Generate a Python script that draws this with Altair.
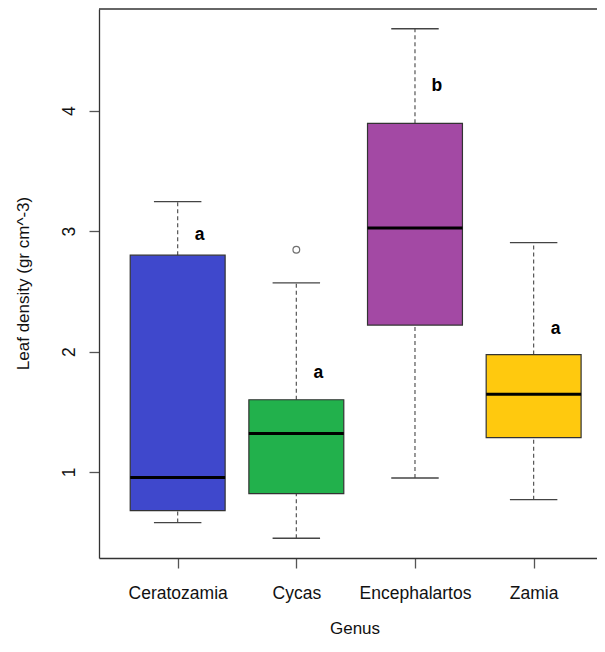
import json
import altair as alt
import pandas as pd

# ---- data ----
GENERA = ["Ceratozamia", "Cycas", "Encephalartos", "Zamia"]
LOWER = [0.58, 0.45, 0.95, 0.77]
Q1 = [0.68, 0.82, 2.22, 1.285]
MEDIAN = [0.955, 1.32, 3.025, 1.645]
Q3 = [2.80, 1.60, 3.895, 1.975]
UPPER = [3.245, 2.57, 4.68, 2.905]
OUTLIER_GENUS = ["Cycas"]
OUTLIER_VALUE = [2.845]
LETTERS = ["a", "a", "b", "a"]
LETTER_Y = [2.965, 1.826, 4.207, 2.187]
COLORS = ["#3F48CC", "#22B14C", "#A349A4", "#FFC90E"]
Y_TICKS = [1, 2, 3, 4]
X_DOMAIN = [0.337, 4.534]
Y_DOMAIN = [0.286, 4.844]

BOX_HALF = 0.4
CAP_HALF = 0.2
LETTER_DX = 0.185

pos = list(range(1, len(GENERA) + 1))
df = pd.DataFrame({
    "genus": GENERA, "pos": pos, "lower": LOWER, "q1": Q1, "median": MEDIAN,
    "q3": Q3, "upper": UPPER, "letter": LETTERS, "letter_y": LETTER_Y,
})
out_df = pd.DataFrame({
    "genus": OUTLIER_GENUS,
    "pos": [GENERA.index(g) + 1 for g in OUTLIER_GENUS],
    "value": OUTLIER_VALUE,
})
frame_df = pd.DataFrame({"x0": [X_DOMAIN[0]], "x1": [X_DOMAIN[1]], "y": [Y_DOMAIN[1]]})

FONT = "Liberation Sans"
label_expr = json.dumps(GENERA) + "[datum.value - 1]"

x_scale = alt.Scale(domain=X_DOMAIN, nice=False, zero=False)
y_scale = alt.Scale(domain=Y_DOMAIN, nice=False, zero=False)

x_axis = alt.Axis(
    values=pos, labelExpr=label_expr, title="Genus", grid=False,
    tickSize=10, labelPadding=30, labelBaseline="alphabetic",
    labelFlush=False, labelOverlap=False,
    titleBaseline="alphabetic", titleY=75, titleX=255.5,
)
y_axis = alt.Axis(
    values=Y_TICKS, title="Leaf density (gr cm^-3)", grid=False,
    tickSize=10, labelPadding=15, labelAngle=270, labelAlign="center",
    labelBaseline="alphabetic", labelFlush=False, labelOverlap=False,
    titleAngle=270, titleAlign="center", titleBaseline="alphabetic",
    titleX=-71, titleY=274,
)


def X(field):
    return alt.X(f"{field}:Q", scale=x_scale, axis=x_axis)


def Y(field):
    return alt.Y(f"{field}:Q", scale=y_scale, axis=y_axis)


base = alt.Chart(df).transform_calculate(
    box_lo=f"datum.pos - {BOX_HALF}",
    box_hi=f"datum.pos + {BOX_HALF}",
    cap_lo=f"datum.pos - {CAP_HALF}",
    cap_hi=f"datum.pos + {CAP_HALF}",
    letter_x=f"datum.pos + {LETTER_DX}",
)

whisk_up = base.mark_rule(color="#555555", strokeWidth=1.2, strokeDash=[4, 3]).encode(
    x=X("pos"), y=Y("q3"), y2="upper:Q")
whisk_lo = base.mark_rule(color="#555555", strokeWidth=1.2, strokeDash=[4, 3]).encode(
    x=X("pos"), y=Y("lower"), y2="q1:Q")
cap_up = base.mark_rule(color="#444444", strokeWidth=1.3).encode(
    x=X("cap_lo"), x2="cap_hi:Q", y=Y("upper"))
cap_lo = base.mark_rule(color="#444444", strokeWidth=1.3).encode(
    x=X("cap_lo"), x2="cap_hi:Q", y=Y("lower"))
boxes = base.mark_rect(stroke="#333333", strokeWidth=1.2).encode(
    x=X("box_lo"), x2="box_hi:Q", y=Y("q1"), y2="q3:Q",
    fill=alt.Fill("genus:N", scale=alt.Scale(domain=GENERA, range=COLORS), legend=None),
)
medians = base.mark_rule(color="black", strokeWidth=3).encode(
    x=X("box_lo"), x2="box_hi:Q", y=Y("median"))
letters = base.mark_text(font=FONT, fontSize=17.5, fontWeight="bold", color="black",
                         align="center", baseline="middle").encode(
    x=X("letter_x"), y=Y("letter_y"), text="letter:N")
outliers = alt.Chart(out_df).mark_point(shape="circle", filled=False, size=45,
                                        color="#333333", strokeWidth=1.2).encode(
    x=X("pos"), y=Y("value"))
top_frame = alt.Chart(frame_df).mark_rule(color="#333333", strokeWidth=1.3).encode(
    x=X("x0"), x2="x1:Q", y=Y("y"))

chart = alt.layer(
    whisk_up, whisk_lo, cap_up, cap_lo, boxes, medians, outliers, letters, top_frame
).properties(
    width=498, height=549,
    padding={"left": 91, "top": 1, "right": 0, "bottom": 81},
    autosize=alt.AutoSizeParams(type="none"),
    background="white",
).configure_view(stroke=None).configure_axis(
    labelFont=FONT, labelFontSize=17.5, labelColor="#111111",
    titleFont=FONT, titleFontSize=17, titleFontWeight="normal", titleColor="#111111",
    domainColor="#333333", domainWidth=1.3, tickColor="#555555", tickWidth=1.3,
)

chart.save("out.html", embed_options={"renderer": "svg", "actions": False})
